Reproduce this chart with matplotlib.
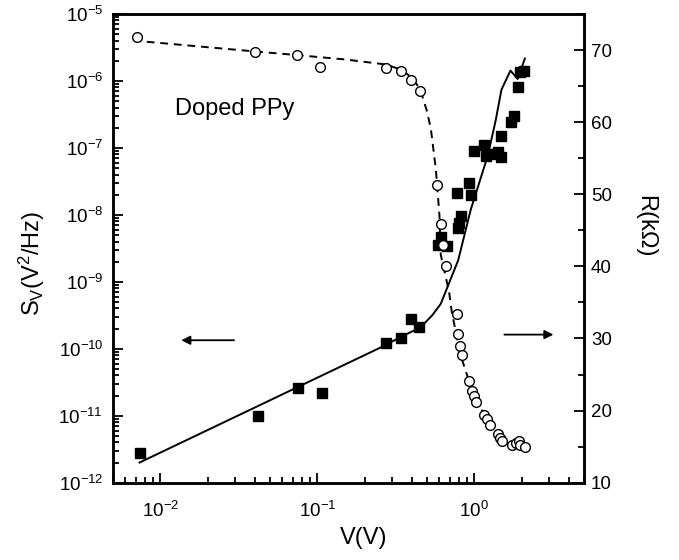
import numpy as np
import matplotlib
matplotlib.use("Agg")
import matplotlib.pyplot as plt
from matplotlib.ticker import LogLocator, MultipleLocator, NullFormatter

plt.rcParams['font.family'] = ['Liberation Sans', 'DejaVu Sans']
plt.rcParams['mathtext.fontset'] = 'custom'
plt.rcParams['mathtext.rm'] = 'Liberation Sans'
plt.rcParams['mathtext.it'] = 'Liberation Sans:italic'
plt.rcParams['mathtext.default'] = 'regular'
plt.rcParams['axes.unicode_minus'] = False

# noise power S_V (filled squares), left axis
sv_v = [0.00738, 0.0418, 0.0757, 0.1077, 0.275, 0.339, 0.393, 0.446,
        0.589, 0.612, 0.668, 0.79, 0.80, 0.822, 0.78, 0.927, 0.95,
        1.0, 1.146, 1.19, 1.26, 1.42, 1.48, 1.49, 1.71, 1.78, 1.89, 1.96, 2.06]
sv_s = [2.8e-12, 1.0e-11, 2.6e-11, 2.2e-11, 1.2e-10, 1.45e-10, 2.8e-10, 2.1e-10,
        3.6e-9, 4.7e-9, 3.4e-9, 6.3e-9, 7.5e-9, 9.5e-9, 2.1e-8, 3.0e-8, 1.95e-8,
        9.1e-8, 1.1e-7, 7.7e-8, 8.1e-8, 8.6e-8, 7.3e-8, 1.5e-7, 2.45e-7, 3.0e-7,
        8.0e-7, 1.36e-6, 1.43e-6]

# solid curve through S_V
fit_v = [0.00738, 0.254, 0.34, 0.456, 0.542, 0.612, 0.79, 0.95, 1.22, 1.37,
         1.49, 1.70, 1.89, 2.10]
fit_s = [2.0e-12, 1.05e-10, 1.5e-10, 2.1e-10, 3.2e-10, 4.7e-10, 2.1e-9,
         1.2e-8, 7.7e-8, 2.6e-7, 7.4e-7, 1.43e-6, 1.07e-6, 2.16e-6]

# resistance R (open circles), right axis
r_v = [0.00716, 0.0404, 0.0745, 0.104, 0.273, 0.34, 0.394, 0.452, 0.583,
       0.612, 0.628, 0.66, 0.782, 0.785, 0.81, 0.83, 0.927, 0.962, 0.99,
       1.02, 1.156, 1.20, 1.26, 1.42, 1.45, 1.51, 1.75, 1.84, 1.93, 1.97, 2.10]
r_kohm = [71.85, 69.67, 69.3, 67.7, 67.45, 67.1, 65.83, 64.3, 51.24,
          45.9, 42.9, 40.0, 33.4, 30.6, 29.0, 27.7, 24.1, 22.7, 22.05,
          21.2, 19.35, 18.8, 18.0, 16.7, 16.25, 15.8, 15.3, 15.55, 15.8, 15.3, 15.0]

# dashed curve through R
rfit_v = [0.0082, 0.0404, 0.0745, 0.15, 0.273, 0.34, 0.40, 0.452, 0.50, 0.529,
          0.569, 0.60, 0.612, 0.692, 0.72, 0.82, 0.92, 1.08, 1.26, 1.5, 1.75, 2.0]
rfit_kohm = [71.15, 69.8, 69.3, 68.7, 68.0, 67.3, 66.2, 64.6, 61.5, 59.1,
             53.5, 47.1, 41.6, 36.4, 33.6, 27.6, 24.3, 20.7, 18.1, 16.0, 15.0, 14.6]

fig = plt.figure(figsize=(6.79, 5.6), dpi=100)
ax = fig.add_axes([0.1664, 0.138, 0.6937, 0.837])
ax2 = ax.twinx()

ax.plot(fit_v, fit_s, '-', color='black', lw=1.4)
ax.plot(sv_v, sv_s, 's', color='black', ms=7, ls='none')
ax2.plot(rfit_v, rfit_kohm, '--', color='black', lw=1.4, dashes=(4, 3))
ax2.plot(r_v, r_kohm, 'o', mfc='white', mec='black', mew=1.0, ms=7, ls='none')

ax.set_xscale('log')
ax.set_yscale('log')
ax.set_xlim(0.005, 5)
ax.set_ylim(1e-12, 1e-5)
ax2.set_ylim(10, 75)

ax.xaxis.set_minor_locator(LogLocator(base=10, subs=np.arange(2, 10), numticks=20))
ax.xaxis.set_minor_formatter(NullFormatter())
ax.yaxis.set_major_locator(LogLocator(base=10, numticks=20))
ax.yaxis.set_minor_locator(LogLocator(base=10, subs=np.arange(2, 10), numticks=20))
ax.yaxis.set_minor_formatter(NullFormatter())
ax2.set_yticks([10, 20, 30, 40, 50, 60, 70])
ax2.yaxis.set_minor_locator(MultipleLocator(5))

ax.tick_params(which='both', direction='in', top=False, right=False,
               labelsize=13.5, width=1.3)
ax.tick_params(which='major', length=7, pad=7)
ax.tick_params(axis='x', which='major', pad=13)
ax.tick_params(which='minor', length=4)
ax2.tick_params(which='both', direction='in', labelsize=13.5, width=1.3)
ax2.tick_params(which='major', length=7, pad=5)
ax2.tick_params(which='minor', length=4)

for a in (ax, ax2):
    for s in a.spines.values():
        s.set_linewidth(1.8)

ax.set_xlabel('V(V)', fontsize=17)
ax.xaxis.set_label_coords(0.533, -0.094)
ax.set_ylabel(r'S$_\mathregular{V}$(V$^\mathregular{2}$/Hz)', fontsize=17)
ax.yaxis.set_label_coords(-0.14, 0.467)
ax2.set_ylabel('R(k\u03a9)', fontsize=17, rotation=270, va='center')
ax2.yaxis.set_label_coords(1.13, 0.548)

ax.text(0.132, 0.797, 'Doped PPy', transform=ax.transAxes, fontsize=17,
        va='center', ha='left')

ax.annotate('', xy=(0.139, 0.304), xytext=(0.263, 0.304), xycoords='axes fraction',
            arrowprops=dict(arrowstyle='-|>', color='black', lw=1.3, mutation_scale=13))
ax.annotate('', xy=(0.941, 0.316), xytext=(0.825, 0.316), xycoords='axes fraction',
            arrowprops=dict(arrowstyle='-|>', color='black', lw=1.3, mutation_scale=13))

fig.savefig('out.png', dpi=100)
